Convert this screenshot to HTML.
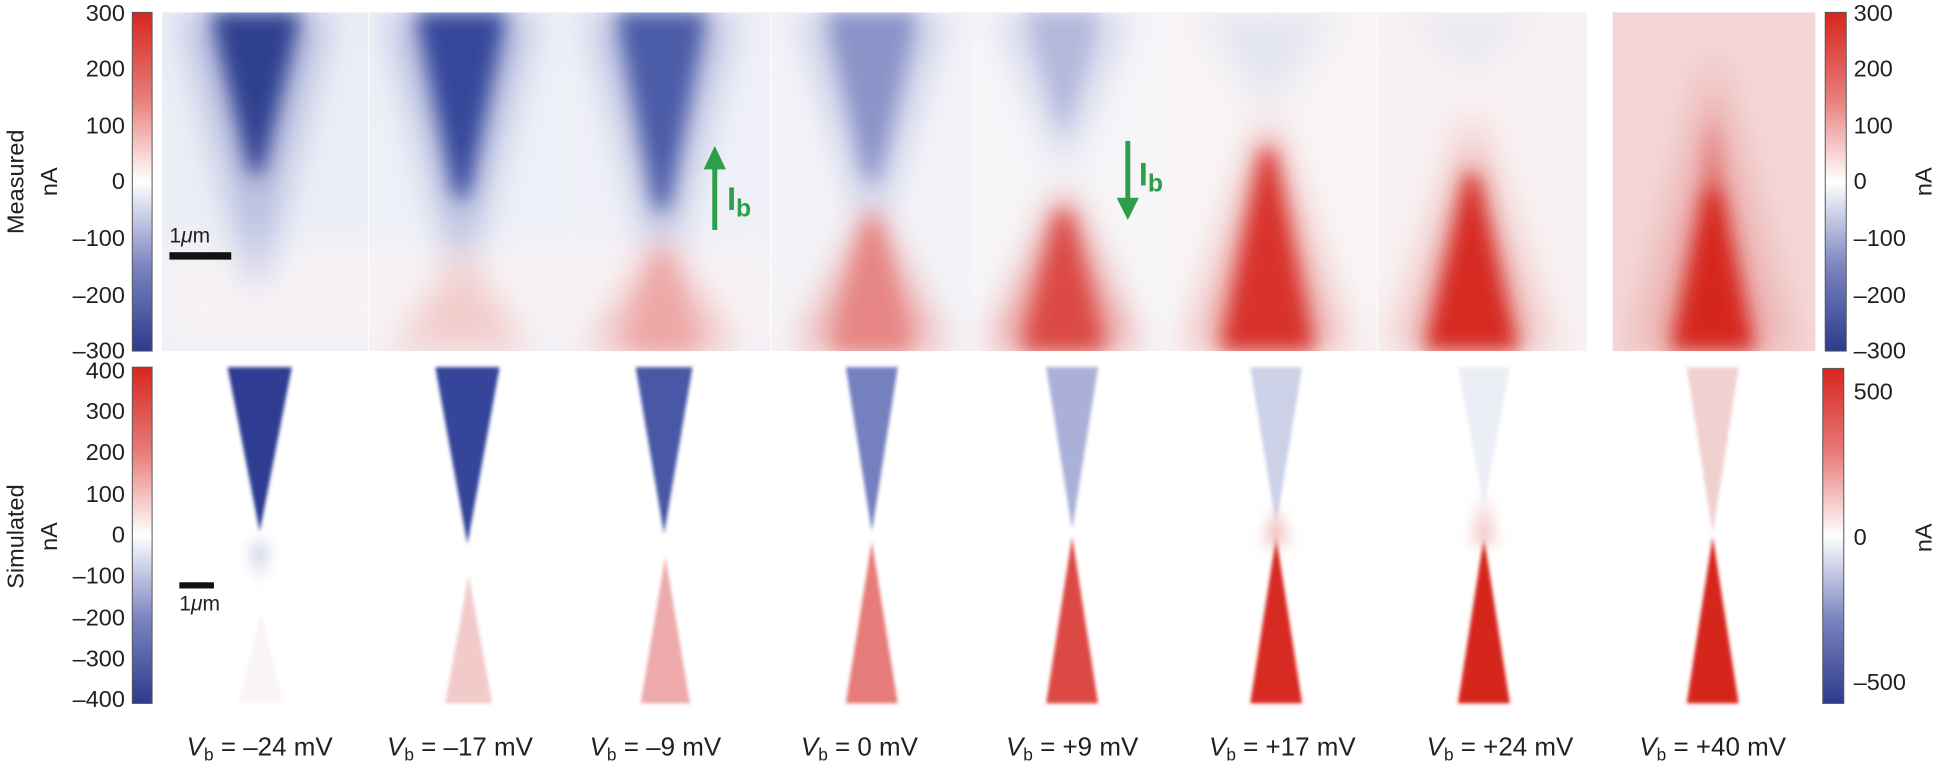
<!DOCTYPE html>
<html><head><meta charset="utf-8"><style>
html,body{margin:0;padding:0;background:#fff;}
svg{display:block;}
text{font-family:"Liberation Sans Narrow","Liberation Sans",sans-serif;fill:#231f20;}
</style></head><body>
<svg width="1939" height="764" viewBox="0 0 1568 618" preserveAspectRatio="none" xmlns="http://www.w3.org/2000/svg">
<defs>
<linearGradient id="cb" x1="0" y1="0" x2="0" y2="1">
<stop offset="0" stop-color="#d7261e"/><stop offset="0.25" stop-color="#e77b78"/><stop offset="0.5" stop-color="#ffffff"/><stop offset="0.75" stop-color="#7a84c0"/><stop offset="1" stop-color="#2e3a8c"/></linearGradient>
<filter id="b6" x="-50%" y="-50%" width="200%" height="200%"><feGaussianBlur stdDeviation="8"/></filter>
<filter id="b12" x="-50%" y="-50%" width="200%" height="200%"><feGaussianBlur stdDeviation="14"/></filter>
<filter id="b2" x="-50%" y="-50%" width="200%" height="200%"><feGaussianBlur stdDeviation="1.5"/></filter>
<filter id="b5" x="-50%" y="-50%" width="200%" height="200%"><feGaussianBlur stdDeviation="6"/></filter>
<clipPath id="ctop"><rect x="131" y="10" width="1152" height="274"/><rect x="1304" y="10" width="164" height="274"/></clipPath>
</defs>

<rect x="131" y="10" width="167" height="274" fill="#eceef6"/>
<rect x="298" y="10" width="162" height="274" fill="#eef0f7"/>
<rect x="460" y="10" width="163" height="274" fill="#eff0f7"/>
<rect x="623" y="10" width="163" height="274" fill="#f3f3f8"/>
<rect x="786" y="10" width="162" height="274" fill="#f6f5f8"/>
<rect x="948" y="10" width="166" height="274" fill="#f8f4f5"/>
<rect x="1114" y="10" width="169" height="274" fill="#f8f1f2"/>
<rect x="1304" y="10" width="164" height="274" fill="#f4d6d6"/>
<g clip-path="url(#ctop)">
<rect x="131" y="200" width="500" height="84" fill="#f7f3f5" filter="url(#b12)"/>
<g filter="url(#b12)">
<polygon points="147,10 267,10 207,240" fill="#b4bade"/>
<polygon points="313,10 433,10 373,235" fill="#b4bade"/>
<polygon points="475,10 595,10 535,230" fill="#bac0e0"/>
<polygon points="645,10 765,10 705,200" fill="#c8cce6"/>
<polygon points="805,10 915,10 860,140" fill="#d3d6ec"/>
<polygon points="970,10 1080,10 1025,90" fill="#e2e4f0"/>
<polygon points="1135,10 1245,10 1190,60" fill="#e8e9f2"/>
<polygon points="318,284 428,284 373,200" fill="#f3caca"/>
<polygon points="475,284 595,284 535,190" fill="#f0b9b9"/>
<polygon points="645,284 765,284 705,165" fill="#eca8a7"/>
<polygon points="800,284 920,284 860,150" fill="#e99795"/>
<polygon points="960,284 1090,284 1025,90" fill="#eeb2b1"/>
<polygon points="1125,284 1255,284 1190,90" fill="#efbcbb"/>
<polygon points="1320,284 1450,284 1385,40" fill="#ecb0b0"/>
</g>
<g filter="url(#b6)">
<polygon points="170,10 244,10 212,140 202,140" fill="#2f3f8f"/>
<polygon points="336,10 410,10 378,160 368,160" fill="#35469a"/>
<polygon points="498,10 572,10 540,170 530,170" fill="#4c5ba8"/>
<polygon points="668,10 742,10 710,145 700,145" fill="#8a93c8"/>
<polygon points="830,10 890,10 860,110" fill="#b3b8dc"/>
<polygon points="505,284 565,284 540,205 530,205" fill="#eda8a6"/>
<polygon points="672,284 738,284 710,175 700,175" fill="#e68583"/>
<polygon points="826,284 894,284 865,170 855,170" fill="#db4a44"/>
<polygon points="986,284 1064,284 1030,120 1020,120" fill="#d8322b"/>
<polygon points="1151,284 1229,284 1195,140 1185,140" fill="#d62b23"/>
<polygon points="1360,284 1410,284 1385,90" fill="#e06a66"/>
<polygon points="1350,284 1420,284 1392,150 1378,150" fill="#d5271f"/>
</g>
</g>
<g stroke="#ffffff" stroke-width="1" opacity="0.8">
<line x1="298" y1="10" x2="298" y2="284"/><line x1="623" y1="10" x2="623" y2="284"/><line x1="1114" y1="10" x2="1114" y2="284"/>
</g>

<rect x="137" y="204" width="50" height="6" fill="#111"/>
<text x="137" y="196" font-size="17">1<tspan font-style="italic">μ</tspan>m</text>

<g fill="#2e9e48" stroke="none">
<rect x="576" y="134" width="4" height="52"/>
<polygon points="569,137 587,137 578,118"/>
<text x="588" y="170" font-size="26" font-weight="bold" style="fill:#2e9e48;font-family:'Liberation Sans',sans-serif">I<tspan font-size="20" dy="5">b</tspan></text>
<rect x="910" y="114" width="4" height="50"/>
<polygon points="903,160 921,160 912,178"/>
<text x="921" y="150" font-size="26" font-weight="bold" style="fill:#2e9e48;font-family:'Liberation Sans',sans-serif">I<tspan font-size="20" dy="5">b</tspan></text>
</g>

<g filter="url(#b2)">
<polygon points="184,297 236,297 210,430" fill="#2e3d91"/>
<polygon points="352,297 404,297 378,440" fill="#34449a"/>
<polygon points="514,297 560,297 537,432" fill="#4a59a6"/>
<polygon points="684,297 726,297 705,430" fill="#7580bf"/>
<polygon points="846,297 888,297 867,428" fill="#aab0d8"/>
<polygon points="1011,297 1053,297 1032,425" fill="#cdd1e8"/>
<polygon points="1179,297 1221,297 1200,410" fill="#eceef6"/>
<polygon points="1364,297 1406,297 1385,432" fill="#f2d0d0"/>
<polygon points="193,569 229,569 211,495" fill="#faf4f5"/>
<polygon points="360,569 398,569 379,465" fill="#f3caca"/>
<polygon points="518,569 558,569 538,450" fill="#eeaaaa"/>
<polygon points="684,569 726,569 705,438" fill="#e57b79"/>
<polygon points="846,569 888,569 867,434" fill="#dc4a45"/>
<polygon points="1011,569 1053,569 1032,434" fill="#d72c24"/>
<polygon points="1179,569 1221,569 1200,434" fill="#d6281f"/>
<polygon points="1364,569 1406,569 1385,434" fill="#d6261e"/>
</g>
<g filter="url(#b5)">
<polygon points="1022,440 1042,440 1032,410" fill="#f0b7b6"/>
<polygon points="1190,440 1210,440 1200,400" fill="#f3c7c6"/>
<polygon points="202,440 218,440 210,470" fill="#c9cde6"/>
</g>
<rect x="145" y="471" width="28" height="5" fill="#111"/>
<text x="145" y="494" font-size="17">1<tspan font-style="italic">μ</tspan>m</text>

<rect x="107" y="10" width="16" height="274" fill="url(#cb)"/>
<rect x="107" y="297" width="16" height="272" fill="url(#cb)"/>
<rect x="1476" y="10" width="17" height="274" fill="url(#cb)"/>
<rect x="1474" y="298" width="17" height="271" fill="url(#cb)"/>
<g stroke="#555" stroke-width="0.8" fill="none">
<rect x="107" y="10" width="16" height="274"/><rect x="107" y="297" width="16" height="272"/>
<rect x="1476" y="10" width="17" height="274"/><rect x="1474" y="298" width="17" height="271"/>
</g>

<g font-size="19" text-anchor="end">
<text x="101" y="17">300</text><text x="101" y="62">200</text><text x="101" y="108">100</text>
<text x="101" y="153">0</text><text x="101" y="199">–100</text><text x="101" y="245">–200</text><text x="101" y="290">–300</text>
<text x="101" y="306">400</text><text x="101" y="339">300</text><text x="101" y="372">200</text><text x="101" y="406">100</text>
<text x="101" y="439">0</text><text x="101" y="472">–100</text><text x="101" y="506">–200</text><text x="101" y="539">–300</text><text x="101" y="572">–400</text>
</g>
<g font-size="19" text-anchor="start">
<text x="1499" y="17">300</text><text x="1499" y="62">200</text><text x="1499" y="108">100</text>
<text x="1499" y="153">0</text><text x="1499" y="199">–100</text><text x="1499" y="245">–200</text><text x="1499" y="290">–300</text>
<text x="1499" y="323">500</text><text x="1499" y="441">0</text><text x="1499" y="558">–500</text>
</g>
<g font-size="19" text-anchor="middle">
<text transform="translate(19,147) rotate(-90)">Measured</text>
<text transform="translate(46,147) rotate(-90)">nA</text>
<text transform="translate(19,434) rotate(-90)">Simulated</text>
<text transform="translate(46,434) rotate(-90)">nA</text>
<text transform="translate(1562,147) rotate(-90)">nA</text>
<text transform="translate(1562,435) rotate(-90)">nA</text>
</g>
<g font-size="21" text-anchor="middle">
<text x="210" y="611"><tspan font-style="italic">V</tspan><tspan font-size="14" dy="4">b</tspan><tspan dy="-4"> = –24 mV</tspan></text>
<text x="372" y="611"><tspan font-style="italic">V</tspan><tspan font-size="14" dy="4">b</tspan><tspan dy="-4"> = –17 mV</tspan></text>
<text x="530" y="611"><tspan font-style="italic">V</tspan><tspan font-size="14" dy="4">b</tspan><tspan dy="-4"> = –9 mV</tspan></text>
<text x="695" y="611"><tspan font-style="italic">V</tspan><tspan font-size="14" dy="4">b</tspan><tspan dy="-4"> = 0 mV</tspan></text>
<text x="867" y="611"><tspan font-style="italic">V</tspan><tspan font-size="14" dy="4">b</tspan><tspan dy="-4"> = +9 mV</tspan></text>
<text x="1037" y="611"><tspan font-style="italic">V</tspan><tspan font-size="14" dy="4">b</tspan><tspan dy="-4"> = +17 mV</tspan></text>
<text x="1213" y="611"><tspan font-style="italic">V</tspan><tspan font-size="14" dy="4">b</tspan><tspan dy="-4"> = +24 mV</tspan></text>
<text x="1385" y="611"><tspan font-style="italic">V</tspan><tspan font-size="14" dy="4">b</tspan><tspan dy="-4"> = +40 mV</tspan></text>
</g>
</svg>
</body></html>
